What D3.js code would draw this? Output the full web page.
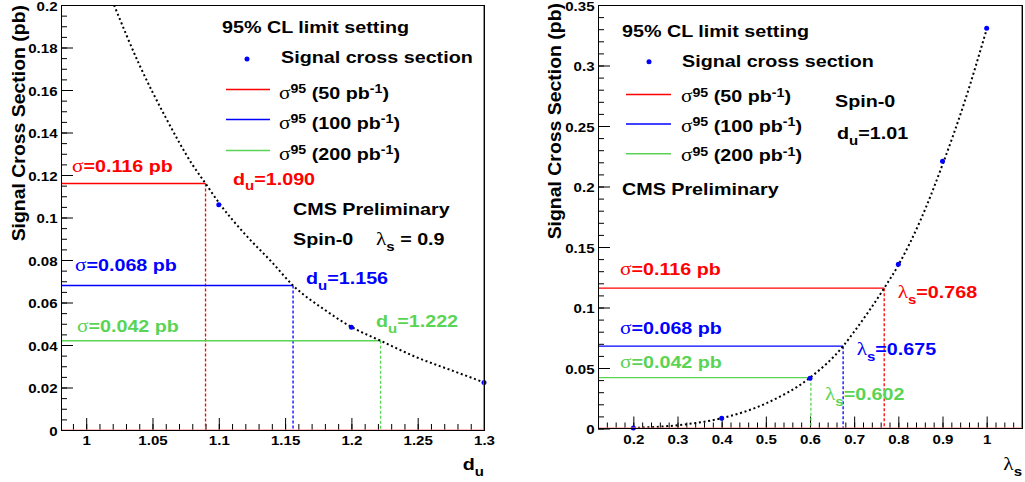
<!DOCTYPE html>
<html><head><meta charset="utf-8">
<script src="https://cdn.jsdelivr.net/npm/d3@7"></script>
<style>body{margin:0;background:#fff} svg{display:block;background:#fff}</style>
</head><body>
<svg id="c" width="1025" height="482"></svg>
<script>
// ---------------- data ----------------
// Left panel: signal cross section vs d_u (lambda_s = 0.9)
const leftPointsX = [1.1, 1.2, 1.3];
const leftPointsY = [0.106, 0.0483, 0.0224];
const leftCurveX = [1.021, 1.04, 1.06, 1.08, 1.09, 1.10, 1.12, 1.14, 1.156, 1.18, 1.20, 1.222, 1.25, 1.275, 1.30];
const leftCurveY = [0.200, 0.172, 0.147, 0.125, 0.116, 0.107, 0.092, 0.079, 0.068, 0.0565, 0.0485, 0.042, 0.0340, 0.0282, 0.0224];
// Right panel: signal cross section vs lambda_s (d_u = 1.01)
const rightPointsX = [0.2, 0.4, 0.6, 0.8, 0.9, 1.0];
const rightPointsY = [0.0004, 0.0084, 0.0415, 0.1357, 0.2208, 0.3307];
const rightCurveX = [0.2, 0.3, 0.4, 0.5, 0.6, 0.675, 0.7, 0.768, 0.8, 0.85, 0.9, 0.95, 1.0];
const rightCurveY = [0.0005, 0.0027, 0.0085, 0.0207, 0.042, 0.068, 0.080, 0.116, 0.135, 0.172, 0.218, 0.270, 0.330];
// 95% CL limits for 50, 100, 200 pb^-1
const lumiLabels = ["50", "100", "200"];
const sigma95 = [0.116, 0.068, 0.042];
const duLimits = [1.090, 1.156, 1.222];
const lambdaLimits = [0.768, 0.675, 0.602];
// tick values and labels
const leftXTicks = [1, 1.05, 1.1, 1.15, 1.2, 1.25, 1.3];
const leftXTickLabels = ["1", "1.05", "1.1", "1.15", "1.2", "1.25", "1.3"];
const leftYTicks = [0, 0.02, 0.04, 0.06, 0.08, 0.1, 0.12, 0.14, 0.16, 0.18, 0.2];
const leftYTickLabels = ["0", "0.02", "0.04", "0.06", "0.08", "0.1", "0.12", "0.14", "0.16", "0.18", "0.2"];
const rightXTicks = [0.2, 0.3, 0.4, 0.5, 0.6, 0.7, 0.8, 0.9, 1];
const rightXTickLabels = ["0.2", "0.3", "0.4", "0.5", "0.6", "0.7", "0.8", "0.9", "1"];
const rightYTicks = [0, 0.05, 0.1, 0.15, 0.2, 0.25, 0.3, 0.35];
const rightYTickLabels = ["0", "0.05", "0.1", "0.15", "0.2", "0.25", "0.3", "0.35"];

// ---------------- styles ----------------
const FONT = "'Liberation Sans', Arial, sans-serif";
const GREEK = "'Liberation Serif', 'DejaVu Serif', serif";
const limitColors = ["#ff0000", "#0000ff", "#59d454"];
const SX = 1.16;

const svg = d3.select("#c");

function rich(g, x, y, str, o = {}) {
  const size = o.size || 17, color = o.color || "#000", anchor = o.anchor || "start";
  const sx = o.sx || SX, rot = o.rotate || 0;
  const grp = g.append("g").attr("transform", `translate(${x},${y}) rotate(${rot}) scale(${sx},1)`);
  const t = grp.append("text").attr("font-family", FONT).attr("font-weight", "bold")
    .attr("font-size", size).attr("fill", color).attr("text-anchor", anchor);
  const parts = str.split(/(\^\{[^}]*\}|_\{[^}]*\})/).filter(s => s.length);
  let shift = 0;
  parts.forEach(p => {
    let mode = 0, s = p;
    if (p.startsWith("^{")) { mode = -1; s = p.slice(2, -1); }
    else if (p.startsWith("_{")) { mode = 1; s = p.slice(2, -1); }
    s.split(/([σλ])/).filter(q => q.length).forEach(q => {
      const ts = t.append("tspan").text(q);
      ts.attr("font-size", mode === -1 ? size * 0.72 : mode === 1 ? size * 0.76 : size);
      if (/[σλ]/.test(q)) ts.attr("font-family", GREEK).attr("font-weight", "normal")
        .attr("font-size", (mode ? size * 0.76 : size) * 1.08);
      const target = mode === -1 ? -size * 0.3 : mode === 1 ? size * 0.33 : 0;
      if (target !== shift) { ts.attr("dy", target - shift); shift = target; }
    });
  });
  return grp;
}

function styleTickText(sel) {
  sel.selectAll("text").attr("font-family", FONT).attr("font-weight", "bold")
    .attr("font-size", 13).attr("fill", "#000");
}

function panel(cfg) {
  const { x, y, id } = cfg;
  const [x0, x1] = x.range(), [yb, yt] = y.range();
  const g = svg.append("g");
  g.append("clipPath").attr("id", id).append("rect")
    .attr("x", x0).attr("y", yt).attr("width", x1 - x0).attr("height", yb - yt);

  // minor ticks
  const mx = g.append("g").attr("transform", `translate(0,${yb})`)
    .call(d3.axisBottom(x).tickValues(cfg.xMinor).tickSize(-6).tickFormat(""));
  mx.select(".domain").remove();
  const my = g.append("g").attr("transform", `translate(${x0},0)`)
    .call(d3.axisLeft(y).tickValues(cfg.yMinor).tickSize(-6).tickFormat(""));
  my.select(".domain").remove();
  // major ticks
  const ax = g.append("g").attr("transform", `translate(0,${yb})`)
    .call(d3.axisBottom(x).tickValues(cfg.xTicks).tickSize(-12).tickPadding(6)
      .tickFormat((d, i) => cfg.xLabels[i]));
  ax.select(".domain").remove();
  styleTickText(ax);
  ax.selectAll("text").attr("transform", `scale(${SX},1)`);
  const ay = g.append("g").attr("transform", `translate(${x0},0)`)
    .call(d3.axisLeft(y).tickValues(cfg.yTicks).tickSize(-12).tickPadding(3)
      .tickFormat((d, i) => cfg.yLabels[i]));
  ay.select(".domain").remove();
  styleTickText(ay);
  ay.selectAll("text").attr("dy", "0.4em").attr("transform", `scale(${SX},1)`);
  g.selectAll(".tick line").attr("stroke", "#000");

  const plot = g.append("g").attr("clip-path", `url(#${id})`);

  // limit lines
  sigma95.forEach((s, i) => {
    const xl = x(cfg.limits[i]);
    plot.append("line").attr("x1", x0).attr("x2", xl).attr("y1", y(s)).attr("y2", y(s))
      .attr("stroke", limitColors[i]).attr("stroke-width", 1.3);
    plot.append("line").attr("x1", xl).attr("x2", xl).attr("y1", y(s)).attr("y2", y(0))
      .attr("stroke", limitColors[i]).attr("stroke-width", 1.3).attr("stroke-dasharray", "3,2");
  });

  // dotted curve
  const line = d3.line().x(d => x(d[0])).y(d => y(d[1])).curve(d3.curveMonotoneX);
  plot.append("path").datum(cfg.curveX.map((v, i) => [v, cfg.curveY[i]]))
    .attr("d", line).attr("fill", "none").attr("stroke", "#000")
    .attr("stroke-width", 2).attr("stroke-dasharray", "2,2.7");

  // points
  g.append("g").selectAll("circle").data(cfg.pointsX.map((v, i) => [v, cfg.pointsY[i]]))
    .join("circle").attr("cx", d => x(d[0])).attr("cy", d => y(d[1])).attr("r", 2.5)
    .attr("fill", "#0000ff");

  // frame
  g.append("line").attr("x1", x1 - 1).attr("x2", x1 - 1).attr("y1", yt).attr("y2", yb)
    .attr("stroke", "#e03030").attr("stroke-opacity", 0.7).attr("shape-rendering", "crispEdges");
  g.append("line").attr("x1", x0).attr("x2", x1).attr("y1", yb - 1).attr("y2", yb - 1)
    .attr("stroke", "#ff8080").attr("stroke-opacity", 0.5).attr("shape-rendering", "crispEdges");
  g.append("rect").attr("x", x0).attr("y", yt).attr("width", x1 - x0).attr("height", yb - yt)
    .attr("fill", "none").attr("stroke", "#000").attr("stroke-width", 1).attr("shape-rendering", "crispEdges");
  return g;
}

// ---------------- left panel ----------------
const xL = d3.scaleLinear().domain([0.981, 1.3]).range([61, 484]);
const yL = d3.scaleLinear().domain([0, 0.2]).range([430, 5]);
const gL = panel({
  id: "clipL", x: xL, y: yL,
  xTicks: leftXTicks, xLabels: leftXTickLabels, yTicks: leftYTicks, yLabels: leftYTickLabels,
  xMinor: d3.range(99, 131).map(v => v / 100),
  yMinor: d3.range(0, 41).map(v => v * 0.005),
  pointsX: leftPointsX, pointsY: leftPointsY, curveX: leftCurveX, curveY: leftCurveY,
  limits: duLimits
});
rich(gL, 25, 5, "Signal Cross Section (pb)", { size: 18, rotate: -90, anchor: "end", sx: 1.08 });
rich(gL, 484, 470, "d_{u}", { size: 17, anchor: "end" });
// legend
rich(gL, 222, 33, "95% CL limit setting");
gL.append("circle").attr("cx", 247).attr("cy", 59).attr("r", 2.5).attr("fill", "#0000ff");
rich(gL, 281, 63, "Signal cross section");
[89.5, 119.5, 150.5].forEach((ly, i) => {
  gL.append("line").attr("x1", 226).attr("x2", 270).attr("y1", ly).attr("y2", ly)
    .attr("stroke", limitColors[i]).attr("stroke-width", 1.5);
  rich(gL, 279, ly + 9, `σ^{95} (${lumiLabels[i]} pb^{-1})`);
});
// annotations
rich(gL, 72, 172, `σ=${sigma95[0].toFixed(3)} pb`, { color: limitColors[0] });
rich(gL, 233, 184.5, `d_{u}=${duLimits[0].toFixed(3)}`, { color: limitColors[0] });
rich(gL, 75, 271, `σ=${sigma95[1].toFixed(3)} pb`, { color: limitColors[1] });
rich(gL, 306, 284, `d_{u}=${duLimits[1].toFixed(3)}`, { color: limitColors[1] });
rich(gL, 77, 332, `σ=${sigma95[2].toFixed(3)} pb`, { color: limitColors[2] });
rich(gL, 376, 327, `d_{u}=${duLimits[2].toFixed(3)}`, { color: limitColors[2] });
rich(gL, 293, 215, "CMS Preliminary");
rich(gL, 293, 245, "Spin-0");
rich(gL, 376, 245, "λ_{s} = 0.9");

// ---------------- right panel ----------------
const xR = d3.scaleLinear().domain([0.12, 1.08]).range([598, 1022]);
const yR = d3.scaleLinear().domain([0, 0.35]).range([428.5, 5]);
const gR = panel({
  id: "clipR", x: xR, y: yR,
  xTicks: rightXTicks, xLabels: rightXTickLabels, yTicks: rightYTicks, yLabels: rightYTickLabels,
  xMinor: d3.range(7, 55).map(v => v * 0.02),
  yMinor: d3.range(0, 36).map(v => v * 0.01),
  pointsX: rightPointsX, pointsY: rightPointsY, curveX: rightCurveX, curveY: rightCurveY,
  limits: lambdaLimits
});
rich(gR, 561, 3, "Signal Cross Section (pb)", { size: 18, rotate: -90, anchor: "end", sx: 1.08 });
rich(gR, 1022, 470, "λ_{s}", { size: 17, anchor: "end" });
rich(gR, 622, 36.5, "95% CL limit setting");
gR.append("circle").attr("cx", 649).attr("cy", 61.7).attr("r", 2.5).attr("fill", "#0000ff");
rich(gR, 682, 66.7, "Signal cross section");
[94.5, 124, 153.7].forEach((ly, i) => {
  gR.append("line").attr("x1", 626).attr("x2", 671).attr("y1", ly).attr("y2", ly)
    .attr("stroke", limitColors[i]).attr("stroke-width", 1.5);
  rich(gR, 681, ly + 7.5, `σ^{95} (${lumiLabels[i]} pb^{-1})`);
});
rich(gR, 622, 195, "CMS Preliminary");
rich(gR, 835, 106.7, "Spin-0");
rich(gR, 837, 139.3, "d_{u}=1.01");
rich(gR, 620, 275, `σ=${sigma95[0].toFixed(3)} pb`, { color: limitColors[0] });
rich(gR, 897.7, 298.3, `λ_{s}=${lambdaLimits[0].toFixed(3)}`, { color: limitColors[0] });
rich(gR, 620, 334.3, `σ=${sigma95[1].toFixed(3)} pb`, { color: limitColors[1] });
rich(gR, 856.7, 355, `λ_{s}=${lambdaLimits[1].toFixed(3)}`, { color: limitColors[1] });
rich(gR, 620, 368.3, `σ=${sigma95[2].toFixed(3)} pb`, { color: limitColors[2] });
rich(gR, 825, 400, `λ_{s}=${lambdaLimits[2].toFixed(3)}`, { color: limitColors[2] });
</script>
</body></html>
